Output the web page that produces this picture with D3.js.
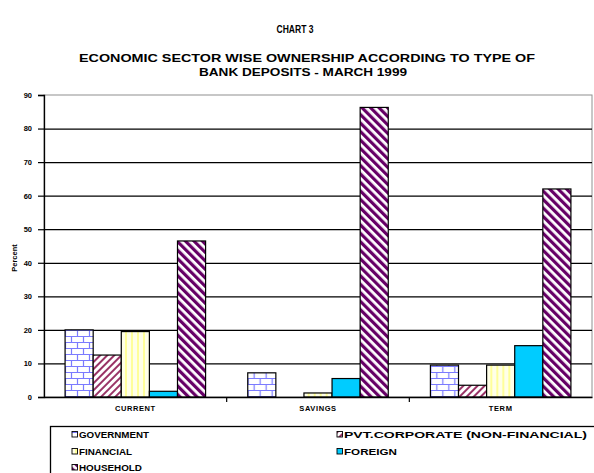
<!DOCTYPE html>
<html><head><meta charset="utf-8">
<script src="https://cdn.jsdelivr.net/npm/d3@7"></script>
<style>
body{margin:0;background:#fff;}
svg{display:block;font-family:"Liberation Sans",Arial,sans-serif;font-weight:bold;}
</style></head>
<body><svg id="c" width="594" height="473"></svg>
<script>
const categories = ["CURRENT","SAVINGS","TERM"];
const seriesNames = ["GOVERNMENT","PVT.CORPORATE (NON-FINANCIAL)","FINANCIAL","FOREIGN","HOUSEHOLD"];
const government = [20, 7.2, 9.5];
const pvtCorporate = [12.5, 0, 3.5];
const financial = [19.5, 1.2, 9.5];
const foreign = [1.7, 5.5, 15.3];
const household = [46.5, 86.3, 62];
const yTicks = [0,10,20,30,40,50,60,70,80,90];
const seriesValues = [government, pvtCorporate, financial, foreign, household];

const svg = d3.select("#c");
const defs = svg.append("defs");

// patterns
const pGov = defs.append("pattern").attr("id","pGov").attr("patternUnits","userSpaceOnUse").attr("width",12).attr("height",12);
pGov.append("rect").attr("width",12).attr("height",12).attr("fill","#fff");
pGov.append("path").attr("d","M0,0.5H12M0,6.5H12M3.5,0V6M9.5,6V12").attr("stroke","#7b7bff").attr("stroke-width",1.2).attr("fill","none");

const pPvt = defs.append("pattern").attr("id","pPvt").attr("patternUnits","userSpaceOnUse").attr("width",5).attr("height",5).attr("patternTransform","rotate(45)");
pPvt.append("rect").attr("width",5).attr("height",5).attr("fill","#fff");
pPvt.append("rect").attr("width",2).attr("height",5).attr("fill","#993366");

const pFin = defs.append("pattern").attr("id","pFin").attr("patternUnits","userSpaceOnUse").attr("width",6).attr("height",6);
pFin.append("rect").attr("width",6).attr("height",6).attr("fill","#ffffe8");
pFin.append("rect").attr("x",3).attr("width",2).attr("height",6).attr("fill","#ffff99");

const pHou = defs.append("pattern").attr("id","pHou").attr("patternUnits","userSpaceOnUse").attr("width",6).attr("height",6).attr("patternTransform","rotate(-45)");
pHou.append("rect").attr("width",6).attr("height",6).attr("fill","#fff");
pHou.append("rect").attr("width",3.2).attr("height",6).attr("fill","#660066");

const fills = ["url(#pGov)","url(#pPvt)","url(#pFin)","#00ccff","url(#pHou)"];

// titles
svg.append("text").attr("x",295).attr("y",33).attr("text-anchor","middle").attr("font-size",10).attr("textLength",37).attr("lengthAdjust","spacingAndGlyphs").text("CHART 3");
svg.append("text").attr("x",307).attr("y",62).attr("text-anchor","middle").attr("font-size",10.5).attr("textLength",456).attr("lengthAdjust","spacingAndGlyphs").text("ECONOMIC SECTOR WISE OWNERSHIP  ACCORDING TO TYPE OF");
svg.append("text").attr("x",303).attr("y",76).attr("text-anchor","middle").attr("font-size",10.5).attr("textLength",208).attr("lengthAdjust","spacingAndGlyphs").text("BANK DEPOSITS - MARCH 1999");

const m = {l:44, r:592, t:95, b:397};
const x = d3.scaleBand().domain(categories).range([m.l, m.r]).paddingInner(0).paddingOuter(0);
const x1 = d3.scaleBand().domain(d3.range(5)).range([0, x.bandwidth()]).paddingOuter(0.75).paddingInner(0);
const y = d3.scaleLinear().domain([0,90]).range([m.b, m.t]);

// plot frame
svg.append("rect").attr("x",m.l).attr("y",m.t).attr("width",m.r-m.l).attr("height",m.b-m.t).attr("fill","#fff").attr("stroke","#909090").attr("stroke-width",1);

// gridlines
const grid = svg.append("g").attr("class","grid").attr("transform",`translate(${m.l},0)`)
  .call(d3.axisLeft(y).tickValues(yTicks.slice(1, -1)).tickSize(-(m.r-m.l)).tickFormat(""));
grid.select(".domain").remove();
grid.selectAll(".tick line").attr("stroke","#000").attr("stroke-width",1.2);

// bars
const groups = svg.append("g").selectAll("g").data(categories).join("g")
  .attr("transform",d=>`translate(${x(d)},0)`);
groups.selectAll("rect").data((c,ci)=>seriesValues.map((s,si)=>({si, v:s[ci]}))).join("rect")
  .attr("x",d=>x1(d.si)).attr("width",x1.bandwidth())
  .attr("y",d=>y(d.v)).attr("height",d=>y(0)-y(d.v))
  .attr("fill",d=>fills[d.si]).attr("stroke","#000").attr("stroke-width",1.2);

// y axis
const ya = svg.append("g").attr("transform",`translate(${m.l},0)`)
  .call(d3.axisLeft(y).tickValues(yTicks).tickSize(6).tickFormat(d3.format("d")));
ya.select(".domain").attr("stroke","#000").attr("stroke-width",1.3);
ya.selectAll(".tick line").attr("stroke","#000").attr("stroke-width",1.2);
ya.selectAll("text").attr("font-size",7.5).attr("font-weight","bold").attr("font-family","Liberation Sans, Arial, sans-serif").attr("x",-12);

// x axis
const xa = svg.append("g").attr("transform",`translate(0,${m.b})`)
  .call(d3.axisBottom(x).tickSize(0).tickPadding(9));
xa.select(".domain").attr("stroke","#000").attr("stroke-width",1.3);
xa.selectAll("text").attr("font-size",7.5).attr("font-weight","bold").attr("font-family","Liberation Sans, Arial, sans-serif").attr("letter-spacing",0.6);
// category separator ticks
svg.append("g").selectAll("line").data(categories.slice(1)).join("line")
  .attr("x1",d=>x(d)).attr("x2",d=>x(d)).attr("y1",m.b).attr("y2",m.b+5).attr("stroke","#000").attr("stroke-width",1.2);

// y label
svg.append("text").attr("transform","translate(17,258) rotate(-90)").attr("text-anchor","middle").attr("font-size",7.5).text("Percent");

// legend
svg.append("rect").attr("x",50.5).attr("y",426.5).attr("width",560).attr("height",60).attr("fill","#fff").attr("stroke","#000").attr("stroke-width",1.3);
const legPos = [[72,438],[337,438],[72,455],[337,455],[72,471]];
const legLen = [70, 243, 53, 53, 63];
const lg = svg.append("g").selectAll("g").data(seriesNames).join("g")
  .attr("transform",(d,i)=>`translate(${legPos[i][0]},${legPos[i][1]})`);
lg.append("rect").attr("x",0).attr("y",-6.5).attr("width",5.5).attr("height",5.5).attr("fill",(d,i)=>fills[i]).attr("stroke","#000").attr("stroke-width",0.9);
lg.append("text").attr("x",7).attr("y",0).attr("font-size",9).attr("textLength",(d,i)=>legLen[i]).attr("lengthAdjust","spacingAndGlyphs").text(d=>d);
</script></body></html>
